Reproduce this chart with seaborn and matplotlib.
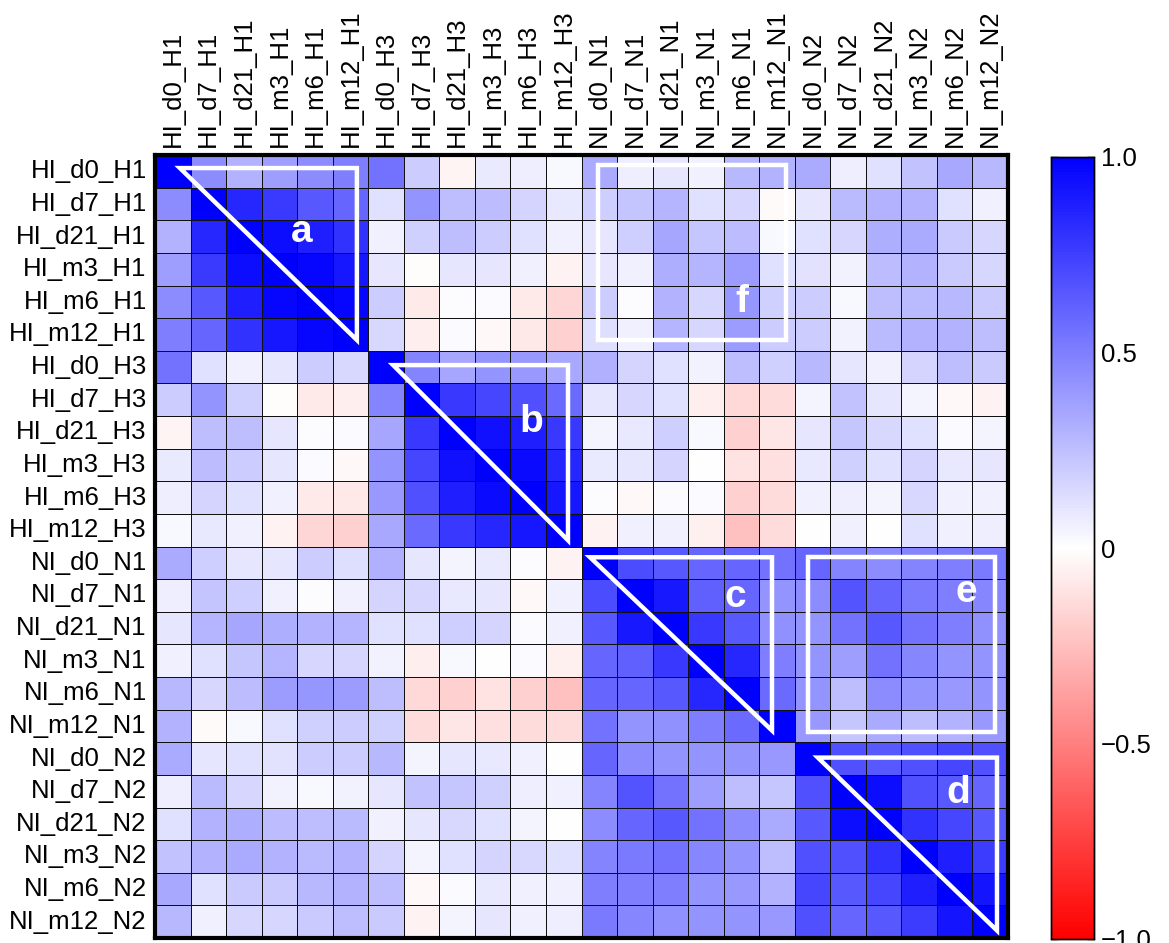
import numpy as np
import pandas as pd
import matplotlib
matplotlib.use("Agg")
import matplotlib.pyplot as plt
from matplotlib.patches import Polygon, Rectangle
import seaborn as sns

sns.set_theme(style="white")
plt.rcParams['font.family'] = ['Liberation Sans', 'DejaVu Sans']
plt.rcParams['text.color'] = 'black'
plt.rcParams['xtick.color'] = 'black'
plt.rcParams['ytick.color'] = 'black'

labels = ["HI_d0_H1", "HI_d7_H1", "HI_d21_H1", "HI_m3_H1", "HI_m6_H1", "HI_m12_H1",
          "HI_d0_H3", "HI_d7_H3", "HI_d21_H3", "HI_m3_H3", "HI_m6_H3", "HI_m12_H3",
          "NI_d0_N1", "NI_d7_N1", "NI_d21_N1", "NI_m3_N1", "NI_m6_N1", "NI_m12_N1",
          "NI_d0_N2", "NI_d7_N2", "NI_d21_N2", "NI_m3_N2", "NI_m6_N2", "NI_m12_N2"]

# upper-triangle correlation values, each row starts at the diagonal
row_00 = [1, 0.45, 0.3, 0.38, 0.45, 0.5, 0.55, 0.2, -0.04, 0.08, 0.07, 0.03, 0.33, 0.07, 0.1, 0.06, 0.28, 0.3, 0.33, 0.07, 0.12, 0.24, 0.34, 0.28]
row_01 = [1, 0.85, 0.77, 0.65, 0.6, 0.12, 0.42, 0.25, 0.26, 0.17, 0.09, 0.19, 0.23, 0.29, 0.12, 0.16, -0.02, 0.1, 0.27, 0.3, 0.3, 0.12, 0.06]
row_02 = [1, 0.95, 0.88, 0.8, 0.06, 0.18, 0.25, 0.2, 0.12, 0.06, 0.1, 0.19, 0.35, 0.22, 0.26, 0.03, 0.12, 0.16, 0.32, 0.33, 0.21, 0.16]
row_03 = [1, 0.97, 0.91, 0.1, -0.01, 0.1, 0.1, 0.06, -0.05, 0.1, 0.06, 0.32, 0.29, 0.39, 0.12, 0.11, 0.05, 0.26, 0.3, 0.21, 0.16]
row_04 = [1, 0.97, 0.2, -0.08, 0.01, 0.02, -0.08, -0.16, 0.2, 0.01, 0.3, 0.16, 0.41, 0.18, 0.2, 0.03, 0.25, 0.27, 0.28, 0.21]
row_05 = [1, 0.15, -0.07, 0.02, -0.03, -0.09, -0.18, 0.13, 0.06, 0.29, 0.16, 0.39, 0.2, 0.2, 0.05, 0.27, 0.3, 0.3, 0.25]
row_06 = [1, 0.48, 0.35, 0.42, 0.4, 0.34, 0.31, 0.17, 0.12, 0.05, 0.25, 0.18, 0.28, 0.1, 0.06, 0.17, 0.25, 0.21]
row_07 = [1, 0.78, 0.72, 0.68, 0.58, 0.1, 0.16, 0.12, -0.07, -0.15, -0.14, 0.04, 0.24, 0.1, 0.04, -0.03, -0.05]
row_08 = [1, 0.93, 0.88, 0.78, 0.04, 0.09, 0.19, 0.03, -0.18, -0.1, 0.1, 0.22, 0.15, 0.12, 0.02, 0.04]
row_09 = [1, 0.96, 0.85, 0.08, 0.1, 0.17, 0.0, -0.11, -0.12, 0.09, 0.18, 0.12, 0.17, 0.09, 0.1]
row_10 = [1, 0.91, 0.01, -0.03, 0.02, 0.02, -0.18, -0.14, 0.06, 0.07, 0.04, 0.15, 0.06, 0.06]
row_11 = [1, -0.05, 0.06, 0.06, -0.06, -0.25, -0.14, 0.0, 0.06, 0.0, 0.12, 0.06, 0.07]
row_12 = [1, 0.7, 0.65, 0.6, 0.6, 0.55, 0.6, 0.48, 0.45, 0.48, 0.5, 0.52]
row_13 = [1, 0.9, 0.62, 0.6, 0.42, 0.45, 0.67, 0.6, 0.52, 0.5, 0.47]
row_14 = [1, 0.78, 0.65, 0.43, 0.42, 0.55, 0.65, 0.55, 0.5, 0.43]
row_15 = [1, 0.85, 0.5, 0.42, 0.38, 0.55, 0.47, 0.42, 0.42]
row_16 = [1, 0.58, 0.42, 0.25, 0.45, 0.42, 0.4, 0.42]
row_17 = [1, 0.4, 0.22, 0.33, 0.25, 0.3, 0.4]
row_18 = [1, 0.68, 0.65, 0.68, 0.72, 0.68]
row_19 = [1, 0.95, 0.68, 0.65, 0.6]
row_20 = [1, 0.8, 0.72, 0.65]
row_21 = [1, 0.88, 0.76]
row_22 = [1, 0.92]
row_23 = [1]

upper_rows = [row_00, row_01, row_02, row_03, row_04, row_05, row_06, row_07,
              row_08, row_09, row_10, row_11, row_12, row_13, row_14, row_15,
              row_16, row_17, row_18, row_19, row_20, row_21, row_22, row_23]

n = len(labels)
M = np.zeros((n, n))
for i, r in enumerate(upper_rows):
    M[i, i:] = r
    M[i:, i] = r
df = pd.DataFrame(M, index=labels, columns=labels)

W, H = 1169, 943
fig = plt.figure(figsize=(W / 100, H / 100), dpi=100)
ax = fig.add_axes([155 / W, 1 - 938 / H, 853 / W, 783 / H])
cax = fig.add_axes([1051 / W, 1 - 939 / H, 43 / W, 782 / H])

sns.heatmap(df, ax=ax, cbar_ax=cax, cmap="bwr_r", vmin=-1, vmax=1,
            linewidths=0.7, linecolor="#111111", square=False,
            cbar_kws={"ticks": [1.0, 0.5, 0, -0.5, -1.0]})

ax.xaxis.tick_top()
ax.set_xticks(np.arange(n) + 0.5)
ax.set_xticklabels(labels, rotation=90, fontsize=18.5, color='black')
ax.set_yticklabels(labels, rotation=0, fontsize=18.5, color='black')
ax.tick_params(axis='both', length=0, pad=6)
ax.set_xlabel("")
ax.set_ylabel("")
for sp in ax.spines.values():
    sp.set_visible(True)
    sp.set_linewidth(3)
    sp.set_color("black")

cax.set_yticklabels(["1.0", "0.5", "0", "\u22120.5", "\u22121.0"], fontsize=18.5, color='black')
cax.tick_params(axis='y', direction='in', left=True, right=True, length=5,
                width=1, color='black', pad=5)
for sp in cax.spines.values():
    sp.set_visible(True)
    sp.set_linewidth(1)
    sp.set_color("black")

# annotation overlays (cell coordinates)
lw = 3.2
tri_a = [(0.7, 0.4), (5.68, 0.4), (5.68, 5.67)]
tri_b = [(6.7, 6.44), (11.62, 6.44), (11.62, 11.81)]
tri_c = [(12.24, 12.33), (17.36, 12.33), (17.36, 17.64)]
tri_d = [(18.65, 18.47), (23.69, 18.47), (23.69, 23.77)]
for tri in [tri_a, tri_b, tri_c, tri_d]:
    ax.add_patch(Polygon(tri, closed=True, fill=False, edgecolor='white', linewidth=lw,
                         joinstyle='miter', clip_on=False))
ax.add_patch(Rectangle((18.37, 12.33), 5.26, 5.37, fill=False, edgecolor='white', linewidth=lw))
ax.add_patch(Rectangle((12.46, 0.31), 5.29, 5.36, fill=False, edgecolor='white', linewidth=lw))

letters = [("a", 4.14, 2.36), ("b", 10.6, 8.19), ("c", 16.32, 13.56),
           ("d", 22.6, 19.57), ("e", 22.82, 13.4), ("f", 16.52, 4.5)]
for t, x, y in letters:
    ax.text(x, y, t, color='white', fontsize=28, fontweight='bold',
            ha='center', va='center')

fig.savefig("out.png", dpi=100)
